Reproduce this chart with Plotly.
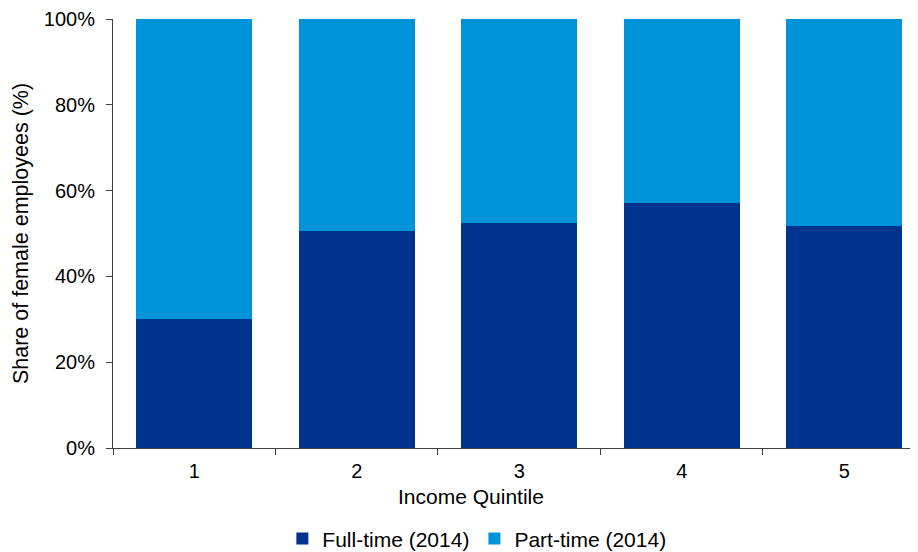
import plotly.graph_objects as go

categories = ["1", "2", "3", "4", "5"]
full_time = [30.1, 50.7, 52.5, 57.1, 51.8]
part_time = [100 - v for v in full_time]
y_ticks = [0, 20, 40, 60, 80, 100]
y_tick_labels = ["0%", "20%", "40%", "60%", "80%", "100%"]

font = dict(family="Liberation Sans, Arial, sans-serif", size=20, color="#000000")

fig = go.Figure()
fig.add_trace(go.Bar(x=categories, y=full_time, name="Full-time (2014)",
                     marker=dict(color="#00338D", line=dict(width=0)), width=0.714))
fig.add_trace(go.Bar(x=categories, y=part_time, name="Part-time (2014)",
                     marker=dict(color="#0093D9", line=dict(width=0)), width=0.714))

fig.update_layout(
    barmode="stack",
    width=910, height=544,
    margin=dict(l=105, r=0, t=11, b=104, autoexpand=False),
    plot_bgcolor="white", paper_bgcolor="white",
    font=font,
    showlegend=True,
    legend=dict(orientation="h", x=0.452, xanchor="center", y=-0.212, yanchor="middle",
                font=dict(size=21), traceorder="normal", itemwidth=30),
    bargap=0.286,
)
fig.update_xaxes(
    type="category", range=[-0.5, 4.454], automargin=False,
    showline=True, linecolor="#404040", linewidth=1,
    ticks="outside", tickson="boundaries", ticklen=6, tickcolor="#404040",
    tickfont=dict(size=20), showgrid=False, ticklabelstandoff=5,
)
fig.update_yaxes(
    range=[0, 100], tickvals=y_ticks, ticktext=y_tick_labels, automargin=False,
    showline=True, linecolor="#404040", linewidth=1,
    ticks="outside", ticklen=6, tickcolor="#404040",
    tickfont=dict(size=20), showgrid=False, zeroline=False, ticklabelstandoff=7,
    title=dict(text="Share of female employees (%)", font=dict(size=21.5), standoff=9),
)
fig.add_annotation(text="Income Quintile", xref="paper", yref="paper",
                   x=0.445, y=-0.114, xanchor="center", yanchor="middle",
                   showarrow=False, font=dict(size=21))

fig.write_html("out.html")
